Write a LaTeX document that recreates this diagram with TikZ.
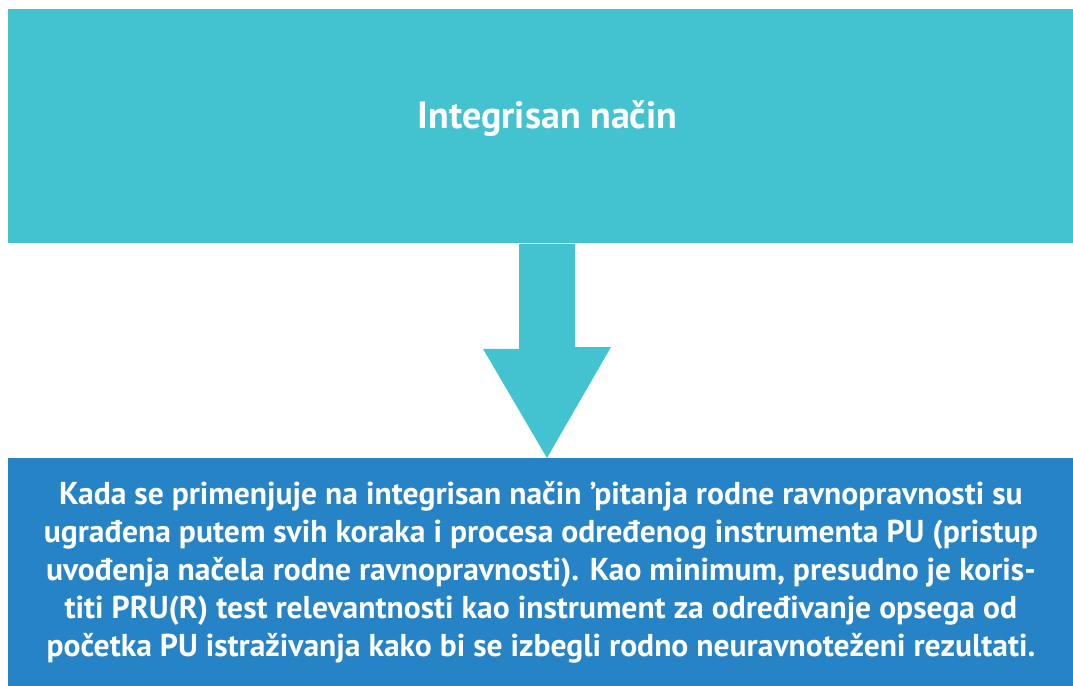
\documentclass[tikz,border=0pt]{standalone}
\usepackage{fontspec}
\setmainfont{PT Sans}
\usetikzlibrary{positioning}
\definecolor{tealfill}{HTML}{43C2CF}
\definecolor{bluefill}{HTML}{2683C6}
\tikzset{
box/.style={
    anchor=north west,
    inner sep=0pt,
    minimum width=532.5pt
},
topbox/.style={
    box,
    fill=tealfill,
    minimum height=117pt
},
bottombox/.style={
    box,
    fill=bluefill,
    minimum height=114pt,
    text=white,
    font=\bfseries\fontsize{15.8}{19}\selectfont,
    align=center
},
titletext/.style={
    text=white,
    font=\bfseries\fontsize{19}{22}\selectfont
}
}

\begin{document}
\begin{tikzpicture}[x=0.5pt,y=-0.5pt]
\useasboundingbox (0,0) rectangle (1073,686);
% boxes
\node[topbox] (top) at (8,9) {};
\node[titletext] (toplabel) at ([xshift=3.25pt,yshift=4pt]top.center) {Integrisan način};
\node[bottombox] (bottom) at (8,458) {%
Kada se primenjuje na integrisan način ’pitanja rodne ravnopravnosti su\\
ugrađena putem svih koraka i procesa određenog instrumenta PU (pristup\\
uvođenja načela rodne ravnopravnosti). Kao minimum, presudno je koris-\\
titi PRU(R) test relevantnosti kao instrument za određivanje opsega od\\
početka PU istraživanja kako bi se izbegli rodno neuravnoteženi rezultati.};
% arrow
\coordinate (base) at (top.south -| 547,0);
\coordinate (tip) at (bottom.north -| 547,0);
\fill[tealfill] ([xshift=-14pt]base) -- ++(0,105) -- ++(-36,0) -- (tip)
    -- ++(64,-111) -- ++(-36,0) -- ([xshift=14pt]base) -- cycle;
\end{tikzpicture}
\end{document}
